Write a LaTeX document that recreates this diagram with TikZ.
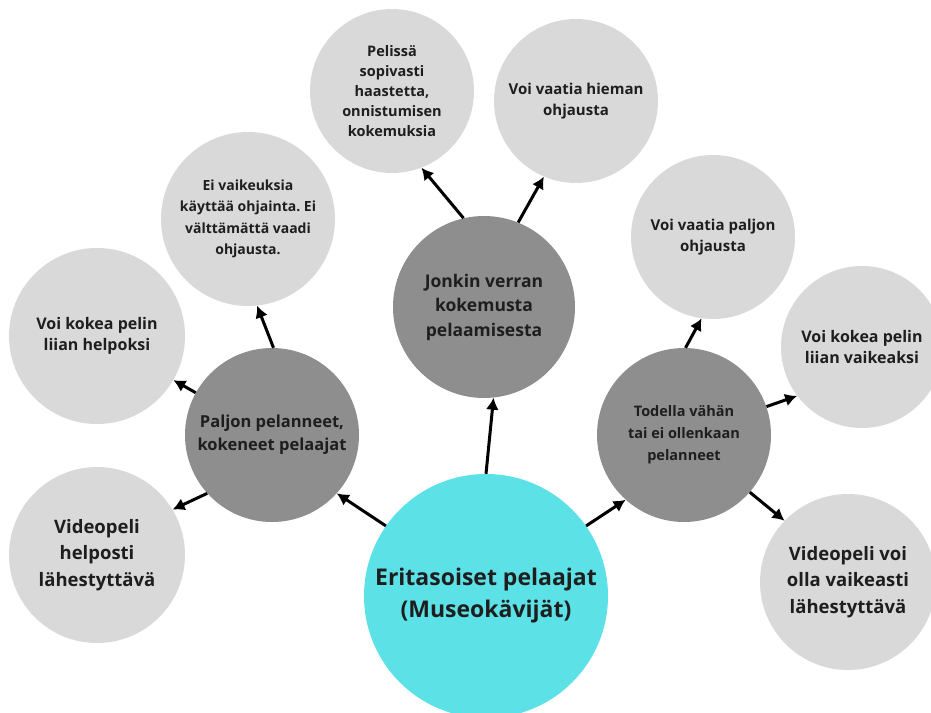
\documentclass[tikz,border=0pt]{standalone}
\usepackage{fontspec}
\setmainfont{Open Sans}
\usetikzlibrary{positioning, arrows.meta}
\frenchspacing

\definecolor{lightgrey}{HTML}{D9D9D9}
\definecolor{darkgrey}{HTML}{8E8E8E}
\definecolor{turq}{HTML}{5CE1E6}
\definecolor{ink}{HTML}{1E1E1E}

\begin{document}
\begin{tikzpicture}[x=1pt, y=-1pt, on grid,
	ball/.style={circle, inner sep=0pt, align=center, text=ink},
	light/.style={ball, fill=lightgrey, minimum size=#1, font=\bfseries\fontsize{15}{21}\selectfont},
	light/.default=172pt,
	dark/.style={ball, fill=darkgrey, minimum size=#1, font=\bfseries\fontsize{16.5}{23}\selectfont},
	dark/.default=174pt,
	>={Latex[length=12pt, width=13pt]}]
	\clip (0,0) rectangle (931,712);

	\node[ball, fill=turq, minimum size=244pt, font=\bfseries\fontsize{23}{32}\selectfont] (m) at (486,596) {Eritasoiset pelaajat\\(Museokävijät)};

	\node[dark, above left=161pt and 214pt of m] (g1) {Paljon pelanneet,\\kokeneet pelaajat};
	\node[dark=182pt, above left=289pt and 2pt of m, font=\bfseries\fontsize{17.5}{24.5}\selectfont] (g2) {Jonkin verran\\kokemusta\\pelaamisesta};
	\node[dark, above right=161pt and 198pt of m, font=\bfseries\fontsize{14.5}{22}\selectfont] (g3) {Todella vähän\\tai ei ollenkaan\\pelanneet};

	\node[light=176pt, above left=99pt and 175pt of g1, font=\bfseries\fontsize{16}{21}\selectfont] (v1) {Voi kokea pelin\\liian helpoksi};
	\node[light=176pt, below left=120pt and 175pt of g1, font=\bfseries\fontsize{18.5}{26.5}\selectfont] (v2) {Videopeli\\helposti\\lähestyttävä};
	\node[light=174pt, above left=216pt and 24pt of g1, font=\bfseries\fontsize{14}{21.5}\selectfont] (v3) {Ei vaikeuksia\\käyttää ohjainta. Ei\\välttämättä vaadi\\ohjausta.};
	\node[light=164pt, above left=216pt and 92pt of g2, font=\bfseries\fontsize{14.5}{20}\selectfont] (v4) {Pelissä\\sopivasti\\haastetta,\\onnistumisen\\kokemuksia};
	\node[light=164pt, above right=206pt and 92pt of g2] (v5) {Voi vaatia hieman\\ohjausta};
	\node[light=164pt, above right=198pt and 29pt of g3] (v6) {Voi vaatia paljon\\ohjausta};
	\node[light=162pt, above right=88pt and 178pt of g3, font=\bfseries\fontsize{16}{21}\selectfont] (v7) {Voi kokea pelin\\liian vaikeaksi};
	\node[light=176pt, below right=147pt and 164pt of g3, font=\bfseries\fontsize{18.5}{26.5}\selectfont] (v8) {Videopeli voi\\olla vaikeasti\\lähestyttävä};

	\draw [->, line width=3pt] (m.145) -- (g1.318);
	\draw [->, line width=3pt] (m.90) -- (g2.276);
	\draw [->, line width=3pt] (m.35) -- (g3.228);

	\draw [->, line width=3pt] (g1.151) -- (v1.330);
	\draw [->, line width=3pt] (g1.222) -- (v2.31);
	\draw [->, line width=3pt] (g1.89) -- (v3.276);

	\draw [->, line width=3pt] (g2.103) -- (v4.291);
	\draw [->, line width=3pt] (g2.68) -- (v5.247);

	\draw [->, line width=3pt] (g3.89) -- (v6.262);
	\draw [->, line width=3pt] (g3.19) -- (v7.217);
	\draw [->, line width=3pt] (g3.-41) -- (v8.136);
\end{tikzpicture}
\end{document}
